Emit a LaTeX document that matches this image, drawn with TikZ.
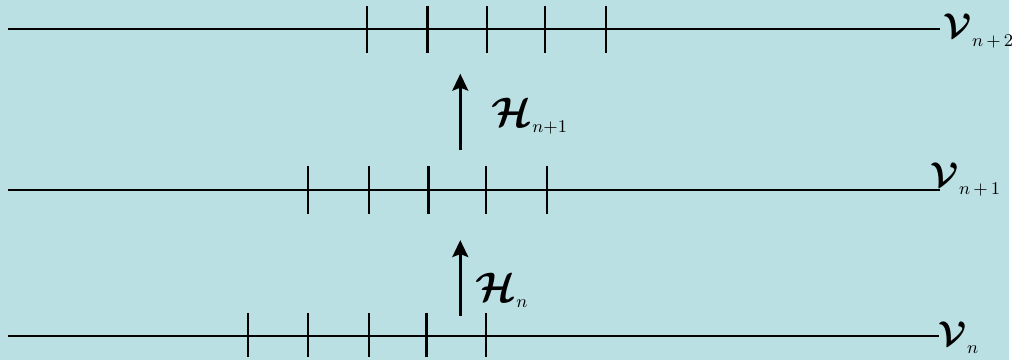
\documentclass[tikz,border=0pt]{standalone}
\usepackage{amsmath,amssymb}
\usetikzlibrary{arrows.meta,positioning}
\definecolor{slidebg}{RGB}{187,224,227}
\newcommand{\lowsub}[2]{\raisebox{-#1}{\fontsize{9}{10}\selectfont$#2$}}

\begin{document}
\begin{tikzpicture}[x=0.5pt,y=-0.5pt,
    level/.style={line width=1.1pt},
    tickmark/.style={line width=1.1pt},
    lift/.style={-{Stealth[length=8.5pt,width=8pt,inset=1.5pt]}, line width=1.3pt},
    spacelbl/.style={font=\fontsize{17.5}{19}\selectfont, inner sep=0pt, anchor=base west},
    maplbl/.style={font=\fontsize{21}{23}\selectfont, inner sep=0pt, anchor=base west}
]
\fill[slidebg] (0,0) rectangle (1013,361);

\coordinate (topstart) at (8,29);
\coordinate (topend) at (943,29);
\coordinate (midstart) at (8,191);
\coordinate (midend) at (943,191);
\coordinate (botstart) at (8,337);
\coordinate (botend) at (942,337);

\draw[level] (topstart) -- (topend);
\draw[level] (midstart) -- (midend);
\draw[level] (botstart) -- (botend);

\foreach \x in {368,429,489,547,608}
    \draw[tickmark] (\x,6) -- (\x,53);
\foreach \x in {309,370,430,488,549}
    \draw[tickmark] (\x,167) -- (\x,215);
\foreach \x in {249,309,370,428,488}
    \draw[tickmark] (\x,314) -- (\x,358);

\node[spacelbl] (vtop) at (947,38) {$\boldsymbol{\mathcal{V}}$\lowsub{4.5pt}{n\,{+}\,2}};
\node[spacelbl] (vmid) at (934,187) {$\boldsymbol{\mathcal{V}}$\lowsub{4pt}{n\,{+}\,1}};
\node[spacelbl] (vbot) at (942,347) {$\boldsymbol{\mathcal{V}}$\lowsub{4pt}{n}};

\coordinate (liftatail) at (462,317);
\coordinate (liftahead) at (462,241);
\coordinate (liftbtail) at (462,151);
\coordinate (liftbhead) at (462,74);
\draw[lift] (liftatail) -- (liftahead);
\draw[lift] (liftbtail) -- (liftbhead);

\node[maplbl] (hlow) at (477,303) {$\boldsymbol{\mathcal{H}}$\lowsub{3pt}{n}};
\node[maplbl] (hup) at (493,127) {$\boldsymbol{\mathcal{H}}$\lowsub{3pt}{n{+}1}};
\end{tikzpicture}
\end{document}
